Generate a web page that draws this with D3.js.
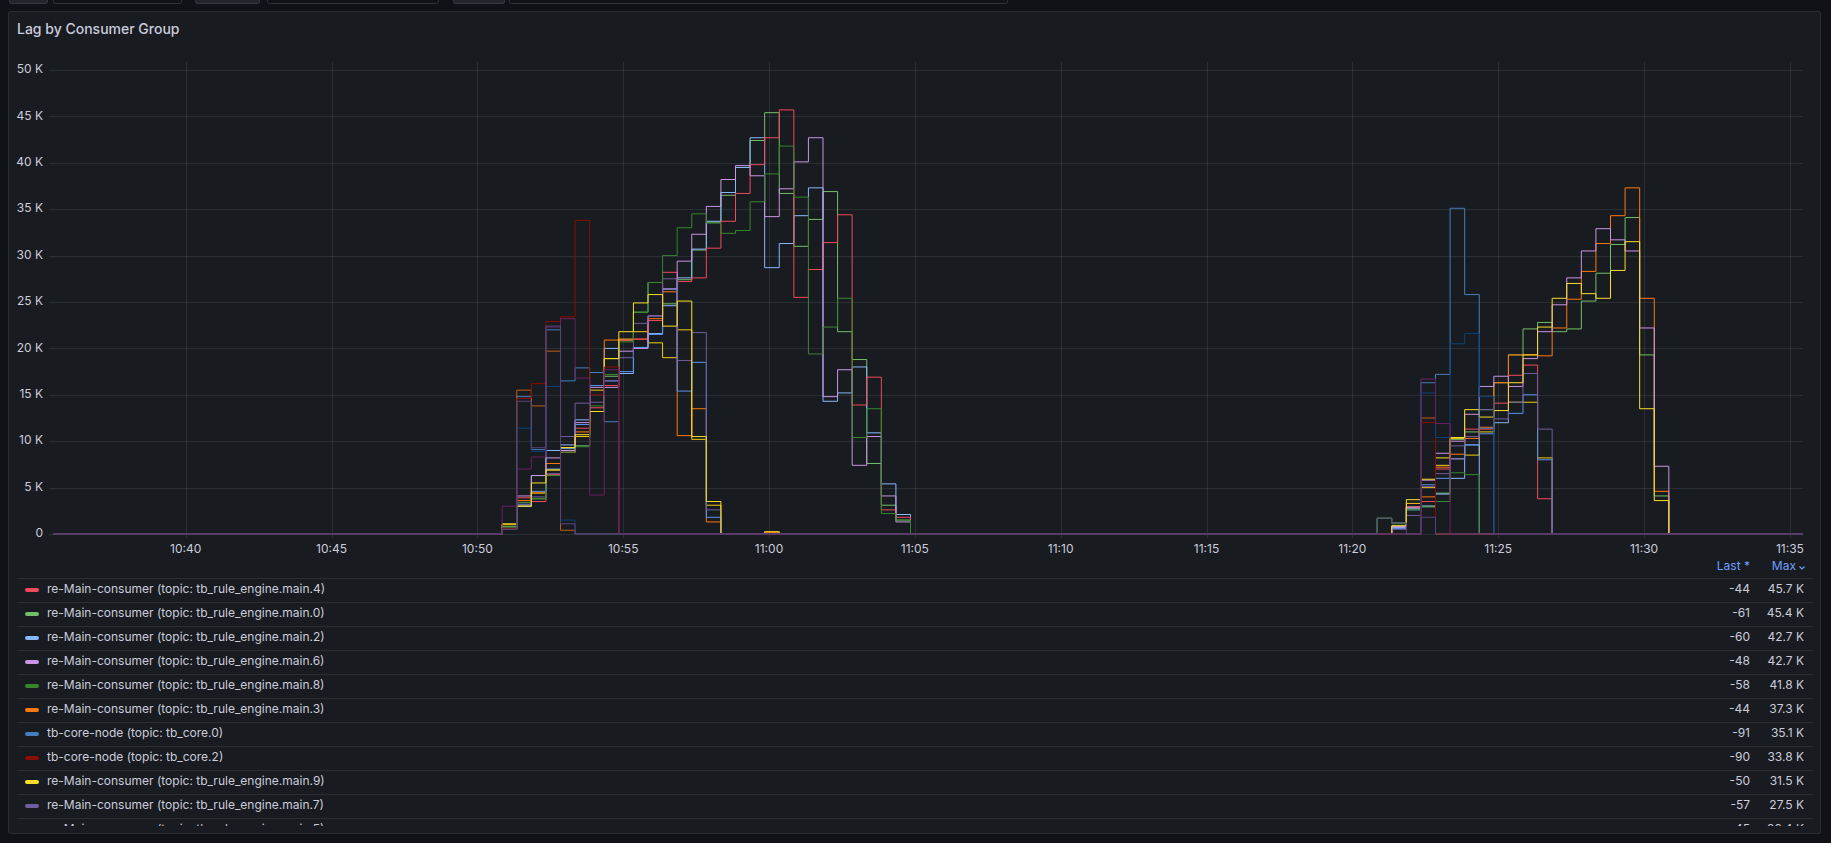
<!DOCTYPE html>
<html>
<head>
<meta charset="utf-8">
<script src="https://cdn.jsdelivr.net/npm/d3@7"></script>
<style>
  html, body { margin: 0; padding: 0; background: #111217; }
  svg { display: block; font-family: Inter, "Noto Sans", sans-serif; }
</style>
</head>
<body>
<div id="chart"></div>
<script>
// canvas
const w = 1831;
const h = 843;

// time window and the two 30s-bucket bursts (values in thousands)
const timeRange = ['10:35:27', '11:35:27'];
const burstAStart = '10:50:51';
const burstBStart = '11:20:51';
const yTicks = [0, 5, 10, 15, 20, 25, 30, 35, 40, 45, 50];

const names = [
  're-Main-consumer (topic: tb_rule_engine.main.0)',
  're-Main-consumer (topic: tb_rule_engine.main.1)',
  're-Main-consumer (topic: tb_rule_engine.main.2)',
  're-Main-consumer (topic: tb_rule_engine.main.3)',
  're-Main-consumer (topic: tb_rule_engine.main.4)',
  're-Main-consumer (topic: tb_rule_engine.main.5)',
  're-Main-consumer (topic: tb_rule_engine.main.6)',
  're-Main-consumer (topic: tb_rule_engine.main.7)',
  're-Main-consumer (topic: tb_rule_engine.main.8)',
  're-Main-consumer (topic: tb_rule_engine.main.9)',
  'tb-core-node (topic: tb_core.0)',
  'tb-core-node (topic: tb_core.1)',
  'tb-core-node (topic: tb_core.2)',
  'tb-core-node (topic: tb_core.3)',
  'tb-core-node (topic: tb_core.4)',
  'tb-core-node (topic: tb_core.5)'
];
const colors = ['#73bf69', '#f2cc0c', '#8ab8ff', '#ff780a', '#f2495c', '#5794f2', '#ca95e5', '#705da0',
  '#37872d', '#fade2a', '#447ebc', '#c15c17', '#890f02', '#0a437c', '#6d1f62', '#584477'];
const lastVals = [-61, -52, -60, -44, -44, -45, -48, -57, -58, -50, -91, -88, -90, -86, -87, -89];

// burst A (from 10:50:51, every 30s)
const main0A = [0.8, 3.4, 3.8, 6.3, 8.8, 9.5, 13.2, 17.0, 20.9, 23.9, 27.1, 24.8, 27.4, 30.6, 33.6, 36.5, 39.5, 42.4, 45.4, 36.7, 31.0, 33.9, 36.9, 21.8, 18.8, 7.6, 3.1, 1.5, 0];
const main1A = [1.0, 3.0, 4.4, 6.9, 9.3, 10.5, 15.5, 18.9, 21.0, 21.8, 20.6, 19.0, 22.0, 10.2, 3.1, 0];
const main2A = [0.6, 3.0, 6.3, 9.0, 9.6, 12.3, 16.0, 20.0, 17.3, 20.1, 21.6, 24.6, 27.6, 30.7, 33.7, 36.8, 39.5, 42.7, 28.7, 31.3, 34.3, 37.3, 14.3, 15.2, 18.0, 10.9, 5.4, 2.1, 0];
const main3A = [0.5, 3.6, 4.5, 7.6, 8.8, 11.0, 17.4, 20.9, 20.9, 21.0, 23.2, 26.1, 10.6, 13.5, 1.3, 0, 0, 0, 0.15, 0];
const main4A = [0.5, 3.9, 3.5, 6.4, 8.8, 11.4, 13.6, 16.0, 20.9, 21.0, 23.0, 28.2, 27.2, 27.6, 30.8, 33.7, 36.7, 39.8, 42.7, 45.7, 25.5, 28.5, 31.4, 34.4, 13.9, 16.9, 2.6, 1.8, 0];
const main5A = [0.6, 3.2, 4.6, 7.0, 9.2, 11.8, 16.0, 16.5, 17.5, 20.1, 21.5, 26.4, 15.4, 18.5, 1.8, 0];
const main6A = [0.6, 4.1, 6.3, 8.2, 9.0, 12.0, 15.8, 15.8, 19.7, 20.0, 23.5, 26.4, 29.4, 32.3, 35.3, 38.2, 39.7, 38.6, 34.2, 37.2, 40.1, 42.7, 14.8, 17.7, 7.4, 10.5, 4.1, 1.3, 0];
const main7A = [0.6, 3.2, 4.0, 6.5, 10.5, 14.1, 14.2, 16.5, 19.0, 22.7, 23.5, 27.5, 18.7, 21.7, 2.6, 0];
const main8A = [0.75, 3.4, 3.8, 6.3, 8.8, 9.4, 13.8, 17.2, 20.7, 23.9, 27.1, 30.0, 33.0, 34.5, 33.5, 32.4, 32.7, 35.8, 38.8, 41.8, 36.3, 19.4, 22.3, 25.4, 10.4, 13.5, 2.2, 1.5, 0];
const main9A = [1.1, 3.0, 5.5, 6.9, 9.3, 10.7, 13.2, 18.9, 21.8, 24.9, 25.8, 22.4, 25.1, 10.5, 3.5, 0, 0, 0, 0.25, 0];
const core0A = [0.6, 14.8, 9.1, 22.0, 16.5, 17.9, 17.4, 12.1, 0];
const core1A = [0.6, 15.5, 13.8, 19.7, 0.4, 0];
const core2A = [0.6, 14.6, 16.2, 22.9, 23.4, 33.8, 15.0, 18.0, 0];
const core3A = [0.5, 11.4, 8.9, 15.9, 1.5, 0];
const core4A = [3.0, 7.0, 8.3, 22.3, 23.2, 16.8, 4.2, 17.7, 0];
const core5A = [0.5, 14.3, 9.3, 22.4, 1.1, 0];

// burst B (from 11:20:51, every 30s)
const main0B = [1.7, 1.2, 2.7, 3.0, 4.4, 10.2, 11.0, 13.4, 16.3, 19.3, 22.1, 22.8, 21.8, 22.1, 25.1, 28.1, 31.2, 34.1, 19.3, 4.1, 0];
const main1B = [0, 0.8, 3.3, 5.0, 7.4, 10.3, 8.5, 11.0, 12.0, 14.2, 14.2, 8.2, 0];
const main2B = [0, 0.7, 2.8, 3.0, 4.3, 6.0, 9.6, 0];
const main3B = [0, 0.6, 2.9, 4.0, 7.2, 8.6, 10.3, 11.5, 16.3, 19.3, 19.3, 19.2, 22.2, 25.3, 28.3, 31.3, 34.3, 37.3, 25.4, 4.6, 0];
const main4B = [0, 0.6, 2.9, 3.5, 7.0, 8.1, 11.3, 11.3, 14.1, 17.1, 18.2, 3.8, 0];
const main5B = [0, 0.6, 2.6, 5.3, 6.0, 8.1, 9.6, 10.8, 12.0, 13.0, 15.0, 8.0, 0];
const main6B = [0, 0.8, 2.9, 5.8, 8.7, 10.0, 12.9, 15.9, 17.0, 15.9, 18.9, 21.8, 24.7, 27.6, 30.5, 32.9, 31.7, 30.5, 22.2, 7.3, 0];
const main7B = [0, 0.5, 2.0, 5.1, 6.5, 9.5, 10.5, 13.4, 12.4, 14.2, 17.3, 11.3, 0];
const main8B = [1.7, 1.1, 2.6, 2.9, 3.5, 6.6, 6.4, 0];
const main9B = [0, 0.9, 3.7, 5.9, 8.2, 10.4, 13.4, 12.6, 13.3, 16.3, 19.3, 22.3, 25.4, 27.0, 25.9, 25.4, 28.4, 31.5, 13.5, 3.6, 0];
const core0B = [0, 0, 0, 16.3, 17.2, 35.1, 25.8, 11.4, 0];
const core1B = [0, 0, 0, 12.5, 0];
const core2B = [0, 0, 0, 12.0, 0];
const core3B = [0, 0, 0, 15.2, 10.4, 20.5, 21.6, 14.8, 0];
const core4B = [0, 0, 0, 16.7, 11.9, 0];
const core5B = [1.7, 1.2, 0, 1.8, 0];

const burstsA = [main0A, main1A, main2A, main3A, main4A, main5A, main6A, main7A, main8A, main9A, core0A, core1A, core2A, core3A, core4A, core5A];
const burstsB = [main0B, main1B, main2B, main3B, main4B, main5B, main6B, main7B, main8B, main9B, core0B, core1B, core2B, core3B, core4B, core5B];

const at = (s) => {
  const [hh, mm, ss] = s.split(':').map(Number);
  return new Date(Date.UTC(2024, 0, 1, hh, mm, ss));
};

const xScale = d3.scaleUtc()
  .domain(timeRange.map(at))
  .range([53, 1803]);

const yScale = d3.scaleLinear()
  .domain([0, 50])
  .range([534, 70]);

const plotTop = 62;

const series = names.map((name, i) => {
  const pts = [{ t: xScale.domain()[0], v: 0 }];
  burstsA[i].forEach((v, k) => pts.push({ t: new Date(+at(burstAStart) + k * 30000), v: v }));
  burstsB[i].forEach((v, k) => pts.push({ t: new Date(+at(burstBStart) + k * 30000), v: v }));
  pts.push({ t: xScale.domain()[1], v: lastVals[i] / 1000 });
  return {
    name: name,
    color: colors[i],
    points: pts,
    last: lastVals[i],
    max: d3.max(pts, d => d.v)
  };
});

const svg = d3.select('#chart')
  .append('svg')
  .attr('width', w)
  .attr('height', h);

// top toolbar remnants
const topBoxes = [[9, 38, '#22252b'], [53, 128, '#111217'], [195, 64, '#22252b'], [267, 171, '#111217'], [453, 51, '#22252b'], [509, 498, '#111217']];
svg.selectAll('rect.tb')
  .data(topBoxes)
  .enter()
  .append('rect')
  .attr('class', 'tb')
  .attr('x', d => d[0] + 0.5)
  .attr('y', -8)
  .attr('width', d => d[1])
  .attr('height', 11.5)
  .attr('rx', 2)
  .attr('fill', d => d[2])
  .attr('stroke', 'rgba(204,204,220,0.16)');

// panel
svg.append('rect')
  .attr('x', 8.5)
  .attr('y', 11.5)
  .attr('width', 1812)
  .attr('height', 822)
  .attr('rx', 2)
  .attr('fill', '#181b1f')
  .attr('stroke', 'rgba(204,204,220,0.12)');

svg.append('text')
  .attr('x', 17)
  .attr('y', 30)
  .attr('dominant-baseline', 'middle')
  .attr('fill', '#ccccdc')
  .attr('font-size', 14)
  .attr('font-weight', 500)
  .text('Lag by Consumer Group');

// grid
const gridColor = 'rgba(240,250,255,0.09)';
const xTicks = xScale.ticks(d3.utcMinute.every(5));

svg.append('g')
  .selectAll('line')
  .data(yTicks)
  .enter()
  .append('line')
  .attr('x1', 49)
  .attr('x2', 1803)
  .attr('y1', d => Math.round(yScale(d)) + 0.5)
  .attr('y2', d => Math.round(yScale(d)) + 0.5)
  .attr('stroke', gridColor);

svg.append('g')
  .selectAll('line')
  .data(xTicks)
  .enter()
  .append('line')
  .attr('x1', d => Math.round(xScale(d)) + 0.5)
  .attr('x2', d => Math.round(xScale(d)) + 0.5)
  .attr('y1', plotTop)
  .attr('y2', 538)
  .attr('stroke', gridColor);

// axis labels
svg.append('g')
  .selectAll('text')
  .data(yTicks)
  .enter()
  .append('text')
  .attr('x', 43)
  .attr('y', d => yScale(d))
  .attr('text-anchor', 'end')
  .attr('dominant-baseline', 'middle')
  .attr('fill', '#ccccdc')
  .attr('font-size', 12)
  .text(d => d === 0 ? '0' : d + ' K');

const fmtTime = d3.utcFormat('%H:%M');
svg.append('g')
  .selectAll('text')
  .data(xTicks)
  .enter()
  .append('text')
  .attr('x', d => xScale(d))
  .attr('y', 550)
  .attr('text-anchor', 'middle')
  .attr('dominant-baseline', 'middle')
  .attr('fill', '#ccccdc')
  .attr('font-size', 12)
  .text(d => fmtTime(d));

// lines
svg.append('clipPath')
  .attr('id', 'plotClip')
  .append('rect')
  .attr('x', 53)
  .attr('y', plotTop)
  .attr('width', 1750)
  .attr('height', 534 - plotTop + 2);

const line = d3.line()
  .x(d => xScale(d.t))
  .y(d => yScale(d.v))
  .curve(d3.curveStepAfter);

svg.append('g')
  .attr('clip-path', 'url(#plotClip)')
  .selectAll('path')
  .data(series)
  .enter()
  .append('path')
  .attr('d', d => line(d.points))
  .attr('fill', 'none')
  .attr('stroke', d => d.color)
  .attr('stroke-width', 1);

// legend table, sorted by max
const legend = series.slice().sort((a, b) => b.max - a.max);
const fmtMax = d => d3.format('.1f')(d) + ' K';

svg.append('text')
  .attr('x', 1750)
  .attr('y', 567)
  .attr('text-anchor', 'end')
  .attr('dominant-baseline', 'middle')
  .attr('fill', '#6e9fff')
  .attr('font-size', 12)
  .text('Last *');

svg.append('text')
  .attr('x', 1796)
  .attr('y', 567)
  .attr('text-anchor', 'end')
  .attr('dominant-baseline', 'middle')
  .attr('fill', '#6e9fff')
  .attr('font-size', 12)
  .text('Max');

svg.append('path')
  .attr('d', 'M1799.5,566.5 L1802,569 L1804.5,566.5')
  .attr('fill', 'none')
  .attr('stroke', '#6e9fff')
  .attr('stroke-width', 1.1);

svg.append('clipPath')
  .attr('id', 'legendClip')
  .append('rect')
  .attr('x', 10)
  .attr('y', 576)
  .attr('width', 1808)
  .attr('height', 250);

const rows = svg.append('g')
  .attr('clip-path', 'url(#legendClip)')
  .selectAll('g')
  .data(legend)
  .enter()
  .append('g')
  .attr('transform', (d, i) => `translate(0, ${590 + i * 24})`);

rows.append('line')
  .attr('x1', 17)
  .attr('x2', 1813)
  .attr('y1', -11.5)
  .attr('y2', -11.5)
  .attr('stroke', 'rgba(204,204,220,0.10)');

rows.append('rect')
  .attr('x', 25)
  .attr('y', -2)
  .attr('width', 14)
  .attr('height', 4)
  .attr('rx', 2)
  .attr('fill', d => d.color);

rows.append('text')
  .attr('x', 47)
  .attr('y', 0)
  .attr('dominant-baseline', 'middle')
  .attr('fill', '#ccccdc')
  .attr('font-size', 12)
  .text(d => d.name);

rows.append('text')
  .attr('x', 1750)
  .attr('y', 0)
  .attr('text-anchor', 'end')
  .attr('dominant-baseline', 'middle')
  .attr('fill', '#ccccdc')
  .attr('font-size', 12)
  .text(d => d.last);

rows.append('text')
  .attr('x', 1804)
  .attr('y', 0)
  .attr('text-anchor', 'end')
  .attr('dominant-baseline', 'middle')
  .attr('fill', '#ccccdc')
  .attr('font-size', 12)
  .text(d => fmtMax(d.max));
</script>
</body>
</html>
